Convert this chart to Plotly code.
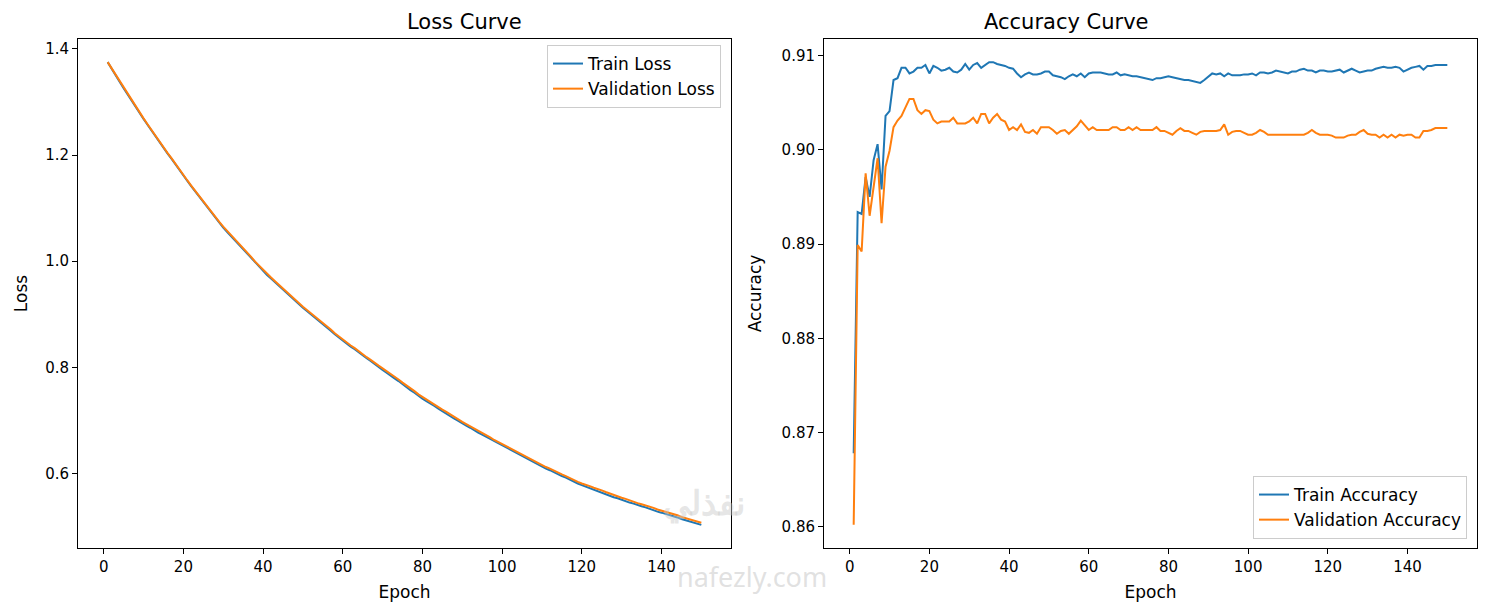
import plotly.graph_objects as go

# values, one per epoch (1..150)
epochs = list(range(1, 151))

train_loss = [
    1.375, 1.362, 1.350, 1.338, 1.326, 1.314, 1.303, 1.291, 1.279, 1.268,
    1.257, 1.246, 1.234, 1.225, 1.214, 1.203, 1.193, 1.182, 1.171, 1.161,
    1.151, 1.141, 1.131, 1.121, 1.112, 1.102, 1.092, 1.082, 1.073, 1.063,
    1.055, 1.047, 1.038, 1.030, 1.022, 1.014, 1.006, 0.997, 0.989, 0.981,
    0.974, 0.967, 0.960, 0.953, 0.946, 0.940, 0.933, 0.926, 0.919, 0.912,
    0.906, 0.900, 0.893, 0.887, 0.881, 0.875, 0.869, 0.862, 0.856, 0.850,
    0.845, 0.839, 0.834, 0.828, 0.823, 0.817, 0.812, 0.806, 0.801, 0.795,
    0.790, 0.784, 0.779, 0.774, 0.768, 0.763, 0.757, 0.752, 0.746, 0.741,
    0.736, 0.732, 0.727, 0.722, 0.717, 0.713, 0.708, 0.703, 0.699, 0.694,
    0.690, 0.686, 0.681, 0.677, 0.673, 0.669, 0.665, 0.660, 0.656, 0.652,
    0.648, 0.644, 0.640, 0.636, 0.632, 0.629, 0.625, 0.621, 0.617, 0.613,
    0.609, 0.606, 0.602, 0.599, 0.595, 0.592, 0.588, 0.585, 0.581, 0.578,
    0.575, 0.572, 0.569, 0.567, 0.564, 0.561, 0.558, 0.555, 0.553, 0.550,
    0.548, 0.545, 0.543, 0.540, 0.538, 0.536, 0.533, 0.531, 0.528, 0.526,
    0.524, 0.521, 0.519, 0.517, 0.514, 0.512, 0.510, 0.507, 0.505, 0.503,
]

val_loss = [
    1.375, 1.363, 1.351, 1.339, 1.327, 1.315, 1.304, 1.292, 1.280, 1.269,
    1.258, 1.247, 1.235, 1.226, 1.215, 1.204, 1.194, 1.183, 1.172, 1.162,
    1.152, 1.142, 1.132, 1.122, 1.113, 1.103, 1.093, 1.083, 1.074, 1.065,
    1.057, 1.049, 1.040, 1.032, 1.024, 1.016, 1.008, 0.999, 0.991, 0.983,
    0.976, 0.969, 0.962, 0.955, 0.948, 0.942, 0.935, 0.928, 0.921, 0.914,
    0.908, 0.902, 0.895, 0.889, 0.883, 0.877, 0.871, 0.864, 0.858, 0.852,
    0.847, 0.841, 0.836, 0.830, 0.825, 0.819, 0.814, 0.808, 0.803, 0.798,
    0.793, 0.787, 0.782, 0.777, 0.771, 0.766, 0.760, 0.755, 0.749, 0.744,
    0.739, 0.735, 0.730, 0.725, 0.720, 0.716, 0.711, 0.706, 0.702, 0.697,
    0.693, 0.689, 0.684, 0.680, 0.676, 0.672, 0.668, 0.663, 0.659, 0.655,
    0.651, 0.647, 0.643, 0.639, 0.635, 0.632, 0.628, 0.624, 0.620, 0.616,
    0.612, 0.609, 0.605, 0.602, 0.598, 0.595, 0.591, 0.588, 0.584, 0.581,
    0.579, 0.576, 0.573, 0.571, 0.568, 0.565, 0.562, 0.559, 0.557, 0.554,
    0.552, 0.549, 0.547, 0.544, 0.542, 0.540, 0.537, 0.535, 0.532, 0.530,
    0.528, 0.525, 0.523, 0.521, 0.518, 0.516, 0.514, 0.511, 0.509, 0.507,
]

train_acc = [
    0.8678, 0.8934, 0.8932, 0.8971, 0.8950, 0.8989, 0.9006, 0.8958, 0.9036, 0.9041,
    0.9074, 0.9076, 0.9087, 0.9087, 0.9081, 0.9083, 0.9087, 0.9087, 0.9090, 0.9081,
    0.9089, 0.9087, 0.9084, 0.9085, 0.9087, 0.9083, 0.9082, 0.9085, 0.9091, 0.9085,
    0.9090, 0.9092, 0.9087, 0.9090, 0.9093, 0.9093, 0.9091, 0.9090, 0.9089, 0.9087,
    0.9086, 0.9081, 0.9077, 0.9080, 0.9082, 0.9080, 0.9080, 0.9081, 0.9083, 0.9083,
    0.9079, 0.9078, 0.9077, 0.9075, 0.9078, 0.9080, 0.9078, 0.9081, 0.9077, 0.9081,
    0.9082, 0.9082, 0.9082, 0.9081, 0.9080, 0.9080, 0.9082, 0.9079, 0.9080, 0.9079,
    0.9078, 0.9078, 0.9077, 0.9076, 0.9075, 0.9074, 0.9076, 0.9076, 0.9077, 0.9078,
    0.9077, 0.9076, 0.9075, 0.9074, 0.9074, 0.9073, 0.9072, 0.9071, 0.9074, 0.9078,
    0.9081, 0.9080, 0.9081, 0.9078, 0.9081, 0.9079, 0.9079, 0.9079, 0.9080, 0.9080,
    0.9081, 0.9079, 0.9082, 0.9082, 0.9081, 0.9082, 0.9084, 0.9083, 0.9082, 0.9081,
    0.9083, 0.9083, 0.9085, 0.9086, 0.9084, 0.9084, 0.9082, 0.9084, 0.9084, 0.9083,
    0.9083, 0.9084, 0.9085, 0.9082, 0.9084, 0.9086, 0.9084, 0.9082, 0.9083, 0.9084,
    0.9084, 0.9086, 0.9087, 0.9088, 0.9087, 0.9087, 0.9088, 0.9087, 0.9083, 0.9085,
    0.9087, 0.9088, 0.9089, 0.9085, 0.9089, 0.9089, 0.9090, 0.9090, 0.9090, 0.9090,
]

val_acc = [
    0.8602, 0.8899, 0.8892, 0.8975, 0.8930, 0.8962, 0.8991, 0.8922, 0.8982, 0.8999,
    0.9024, 0.9031, 0.9036, 0.9045, 0.9054, 0.9054, 0.9042, 0.9038, 0.9042, 0.9041,
    0.9032, 0.9028, 0.9030, 0.9030, 0.9030, 0.9034, 0.9028, 0.9028, 0.9028, 0.9030,
    0.9034, 0.9028, 0.9038, 0.9038, 0.9028, 0.9034, 0.9038, 0.9032, 0.9030, 0.9021,
    0.9024, 0.9021, 0.9027, 0.9019, 0.9018, 0.9021, 0.9017, 0.9024, 0.9024, 0.9024,
    0.9021, 0.9017, 0.9020, 0.9021, 0.9017, 0.9021, 0.9025, 0.9031, 0.9026, 0.9021,
    0.9024, 0.9021, 0.9021, 0.9021, 0.9021, 0.9024, 0.9024, 0.9021, 0.9021, 0.9024,
    0.9021, 0.9024, 0.9021, 0.9021, 0.9021, 0.9021, 0.9024, 0.9020, 0.9020, 0.9018,
    0.9016, 0.9020, 0.9023, 0.9020, 0.9020, 0.9018, 0.9016, 0.9019, 0.9020, 0.9020,
    0.9020, 0.9020, 0.9021, 0.9027, 0.9016, 0.9019, 0.9020, 0.9020, 0.9018, 0.9016,
    0.9016, 0.9018, 0.9021, 0.9019, 0.9016, 0.9016, 0.9016, 0.9016, 0.9016, 0.9016,
    0.9016, 0.9016, 0.9016, 0.9016, 0.9018, 0.9021, 0.9018, 0.9016, 0.9016, 0.9016,
    0.9015, 0.9013, 0.9013, 0.9013, 0.9015, 0.9016, 0.9016, 0.9019, 0.9021, 0.9017,
    0.9016, 0.9016, 0.9013, 0.9016, 0.9013, 0.9016, 0.9013, 0.9016, 0.9015, 0.9016,
    0.9016, 0.9013, 0.9013, 0.9020, 0.9020, 0.9021, 0.9023, 0.9023, 0.9023, 0.9023,
]

loss_ticks = [0.6, 0.8, 1.0, 1.2, 1.4]
acc_ticks = [0.86, 0.87, 0.88, 0.89, 0.90, 0.91]
epoch_ticks = [0, 20, 40, 60, 80, 100, 120, 140]

BLUE = "#1f77b4"
ORANGE = "#ff7f0e"
FONT = "DejaVu Sans"
W, H = 1490, 610
OFF = 8  # the page body margin pushes the plot by this many pixels


def px_x(p):
    return (p - OFF) / W


def px_y(p):
    return 1 - (p - OFF) / H


def padded(vals, frac=0.05):
    lo, hi = min(vals), max(vals)
    d = (hi - lo) * frac
    return [lo - d, hi + d]


fig = go.Figure()

fig.add_trace(go.Scatter(x=epochs, y=train_loss, mode="lines", name="Train Loss",
                         line=dict(color=BLUE, width=2), xaxis="x", yaxis="y", legend="legend"))
fig.add_trace(go.Scatter(x=epochs, y=val_loss, mode="lines", name="Validation Loss",
                         line=dict(color=ORANGE, width=2), xaxis="x", yaxis="y", legend="legend"))
fig.add_trace(go.Scatter(x=epochs, y=train_acc, mode="lines", name="Train Accuracy",
                         line=dict(color=BLUE, width=2), xaxis="x2", yaxis="y2", legend="legend2"))
fig.add_trace(go.Scatter(x=epochs, y=val_acc, mode="lines", name="Validation Accuracy",
                         line=dict(color=ORANGE, width=2), xaxis="x2", yaxis="y2", legend="legend2"))

ydom = [px_y(548), px_y(39)]
xrange_ = [epochs[0] - 0.05 * (epochs[-1] - epochs[0]), epochs[-1] + 0.05 * (epochs[-1] - epochs[0])]

axis_common = dict(
    showgrid=False, zeroline=False, showline=True, mirror=True,
    linecolor="black", linewidth=1, ticks="outside", ticklen=5, tickwidth=1,
    tickcolor="black", tickfont=dict(family=FONT, size=15, color="black"),
)
label_font = dict(family=FONT, size=17, color="black")

fig.update_layout(
    width=W, height=H,
    margin=dict(l=0, r=0, t=0, b=0),
    paper_bgcolor="white", plot_bgcolor="white",
    font=dict(family=FONT, size=15, color="black"),
    xaxis=dict(domain=[px_x(78), px_x(731)], range=xrange_, tickvals=epoch_ticks,
               title=dict(text="Epoch", standoff=11, font=label_font), anchor="y", **axis_common),
    yaxis=dict(domain=ydom, range=padded(train_loss + val_loss), tickvals=loss_ticks,
               tickformat=".1f", title=dict(text="Loss", standoff=13, font=label_font),
               anchor="x", **axis_common),
    xaxis2=dict(domain=[px_x(824), px_x(1477)], range=xrange_, tickvals=epoch_ticks,
                title=dict(text="Epoch", standoff=11, font=label_font), anchor="y2", **axis_common),
    yaxis2=dict(domain=ydom, range=padded(train_acc + val_acc), tickvals=acc_ticks,
                tickformat=".2f", title=dict(text="Accuracy", standoff=15, font=label_font),
                anchor="x2", **axis_common),
    legend=dict(x=px_x(721), y=px_y(45), xanchor="right", yanchor="top",
                bgcolor="rgba(255,255,255,0.8)", bordercolor="#cccccc", borderwidth=1,
                font=label_font, tracegroupgap=0),
    legend2=dict(x=px_x(1467), y=px_y(539), xanchor="right", yanchor="bottom",
                 bgcolor="rgba(255,255,255,0.8)", bordercolor="#cccccc", borderwidth=1,
                 font=label_font, tracegroupgap=0),
    showlegend=True,
)

# subplot titles
title_font = dict(family=FONT, size=21, color="black")
fig.add_annotation(text="Loss Curve", x=px_x((78 + 731) / 2), y=px_y(22), xref="paper", yref="paper",
                   showarrow=False, font=title_font, yanchor="middle")
fig.add_annotation(text="Accuracy Curve", x=px_x((824 + 1477) / 2), y=px_y(22), xref="paper", yref="paper",
                   showarrow=False, font=title_font, yanchor="middle")

# faint watermark
fig.add_annotation(text="<b>نفذلي</b>", x=px_x(704), y=px_y(527), xref="paper", yref="paper",
                   showarrow=False, font=dict(family="Noto Sans", size=34, color="rgba(200,200,200,0.45)"))
fig.add_annotation(text="nafezly.com", x=px_x(752), y=px_y(597), xref="paper", yref="paper",
                   showarrow=False, font=dict(family="Noto Sans", size=27, color="rgba(200,200,200,0.55)"))

fig.write_html("out.html")
